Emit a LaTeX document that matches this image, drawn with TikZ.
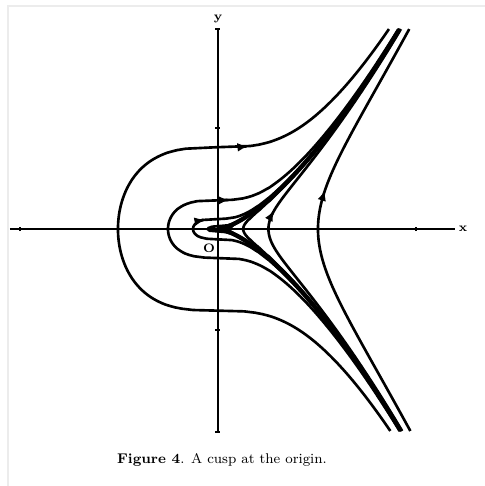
\documentclass[tikz,border=0pt]{standalone}
\usetikzlibrary{arrows.meta}

\tikzset{
  declare function={cbrt(\t)=ifthenelse(\t<0,-1,1)*abs(\t)^(1/3);
                    upper(\c,\s)=sqrt(2/3*(\s*\s*\s-\c*\c*\c));},
  orbit/.style={line width=1.5pt},
  sepx/.style={line width=2.5pt},
  axis/.style={line width=1pt},
  flowtip/.style={line width=1.5pt,-{Latex[length=6pt,width=5pt]}},
  lab/.style={font=\fontsize{7}{8}\selectfont\bfseries,inner sep=0pt}
}
% small arrow on the upper branch of orbit #1, tip at x = #2
\newcommand\orbitarrow[2]{%
  \draw[flowtip] ({#2-0.015},{upper(#1,#2-0.015)}) -- ({#2},{upper(#1,#2)});}

\begin{document}
\begin{tikzpicture}[x=2cm,y=2cm]
% page size and the faint frame of the scan
\useasboundingbox (-2.18,-2.57) rectangle (2.67,2.29);
\draw[gray!15,line width=0.8pt] (-2.10,-2.57) -- (-2.10,2.23) -- (2.67,2.23);
% axes with their end marks
\coordinate (xl) at (-2.08,0);
\coordinate (xr) at (2.37,0);
\coordinate (yb) at (0,-2.03);
\coordinate (yt) at (0,2.0);
\draw[axis] (xl) -- (xr);
\draw[axis] (yb) -- (yt);
\foreach \p in {-1.98,1.98}
  \draw[axis] (\p,-0.02) -- (\p,0.02);
\foreach \p in {-2.03,-1.01,1.01,2.0}
  \draw[axis] (-0.025,\p) -- (0.025,\p);
\node[lab] (xlab) at (2.45,0) {x};
\node[lab] (ylab) at (0,2.10) {y};
\node[lab] (o) at (-0.09,-0.19) {O};
% level curves y^2 = 2/3 (x^3 - a^3)
\foreach \k in {-1,-0.5,-0.25,-0.1,0.1,0.25,0.5,1}
  \draw[orbit] plot[domain=-2.02:2,samples=300]
    ({cbrt(1.5*\x*\x+(\k)*(\k)*(\k))},\x);
% the cusp itself
\draw[sepx] plot[domain=-1.2625:1.26,samples=200]
  ({1.1447*\x*\x},{\x*\x*\x});
% direction of the flow
\orbitarrow{-1}{0.30}
\orbitarrow{-0.5}{0.11}
\orbitarrow{-0.25}{-0.13}
\orbitarrow{0.1}{0.19}
\orbitarrow{0.5}{0.56}
\orbitarrow{1}{1.07}
% caption
\node[font=\fontsize{8}{10}\selectfont] (cap) at (0.04,-2.31)
  {\textbf{Figure 4}. A cusp at the origin.};
\end{tikzpicture}
\end{document}
